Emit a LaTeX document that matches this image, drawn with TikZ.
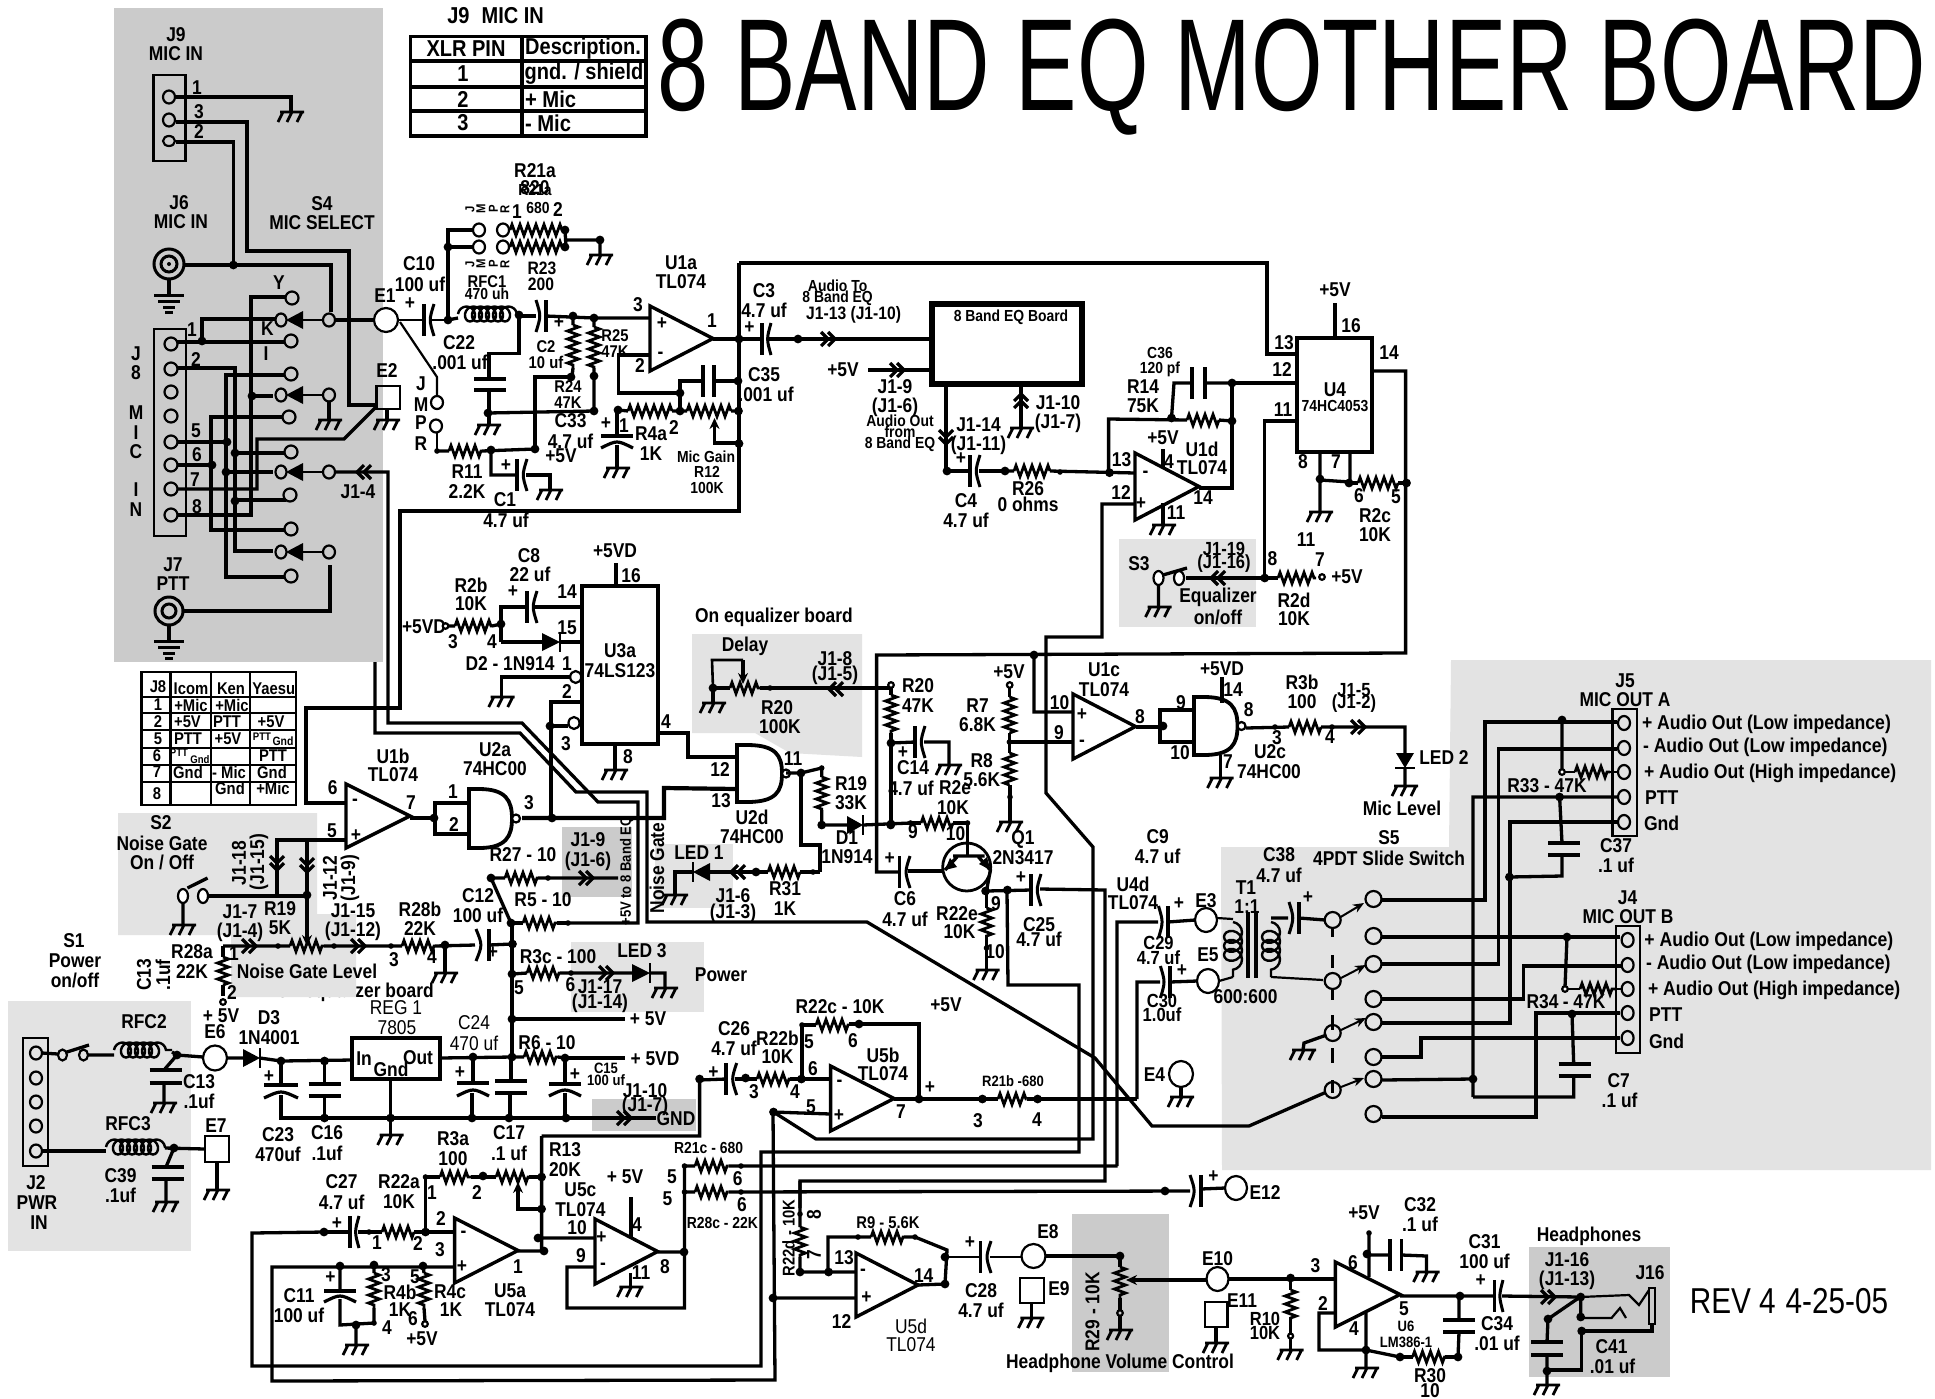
\documentclass[tikz,border=0pt]{standalone}
\usepackage{fontspec}
\usepackage{graphicx}
\setmainfont{Liberation Sans}
\usetikzlibrary{arrows.meta,decorations.pathmorphing}
\definecolor{gA}{HTML}{CBCBCB}
\definecolor{gB}{HTML}{E3E3E3}
\newcounter{lbl}
\tikzset{
 lbl/.style={inner sep=0pt,outer sep=0pt,anchor=center},
 wr/.style={line width=3.3pt,line join=miter},
 hw/.style={line width=4.2pt,line join=miter},
 tw/.style={line width=2.2pt},
 gw/.style={line width=2.8pt},
 chv/.style={line width=3.2pt},
 opa/.style={line width=3.4pt,line join=miter},
 rez/.style={line width=2.8pt,decorate,decoration={zigzag,segment length=8pt,amplitude=5.5pt}},
 coi/.style={line width=2.4pt,decorate,decoration={coil,aspect=.9,segment length=7pt,amplitude=7.5pt}},
 coiv/.style={line width=2.4pt,decorate,decoration={coil,aspect=.9,segment length=9pt,amplitude=9pt}},
 cpl/.style={line width=3.6pt},
 wip/.style={line width=3.2pt,-{Stealth[length=11pt,width=10pt]}},
}
\newcommand\LT[4][20]{\stepcounter{lbl}\node[lbl,font=\fontsize{#1}{#1}\selectfont\bfseries] (t\thelbl) at (#2,#3) {\scalebox{.87}[1]{#4}};}
\newcommand\LN[4][20]{\stepcounter{lbl}\node[lbl,font=\fontsize{#1}{#1}\selectfont] (t\thelbl) at (#2,#3) {\scalebox{.87}[1]{#4}};}
\newcommand\LW[4][20]{\stepcounter{lbl}\node[lbl,anchor=west,font=\fontsize{#1}{#1}\selectfont\bfseries] (t\thelbl) at (#2,#3) {\scalebox{.88}[1]{#4}};}
\newcommand\LV[4][20]{\stepcounter{lbl}\node[lbl,rotate=90,font=\fontsize{#1}{#1}\selectfont\bfseries] (t\thelbl) at (#2,#3) {\scalebox{.87}[1]{#4}};}
\newcommand\xDot[2]{\fill (#1,#2) circle (4.4pt);}
\newcommand\xSd[2]{\fill (#1,#2) circle (2.8pt);}
\newcommand\xRg[5][white]{\draw[line width=2.2pt,fill=#1] (#2,#3) ellipse ({#4pt} and {#5pt});}
\newcommand\xRz[4]{\draw[rez] (#1,#2)--(#3,#4);}
\newcommand\xCoil[4]{\draw[coi] (#1,#2)--(#3,#4);}
\newcommand\xCapH[4]{\pgfmathsetmacro\cmx{#2+(#1-#2)*0.5}\draw[cpl] (#1,#3-#4)--(#1,#3+#4);\draw[line width=3pt] (#2,#3-#4) .. controls (\cmx,#3) .. (#2,#3+#4);}
\newcommand\xCapV[4]{\draw[cpl] (#1-#4,#2)--(#1+#4,#2);\draw[line width=3.2pt] (#1-#4,#3+3) .. controls (#1,#3-5) .. (#1+#4,#3+3);}
\newcommand\xCapN[4]{\draw[cpl] (#1-#4,#2)--(#1+#4,#2) (#1-#4,#3)--(#1+#4,#3);}
\newcommand\xCapNH[4]{\draw[cpl] (#1,#3-#4)--(#1,#3+#4) (#2,#3-#4)--(#2,#3+#4);}
\newcommand\xGnd[2]{\draw[gw] (#1-11,#2)--(#1+13,#2) (#1-8,#2)--(#1-13,#2+10) (#1+1,#2)--(#1-4,#2+10) (#1+11,#2)--(#1+6,#2+10);}
\newcommand\xEarth[2]{\draw[line width=3pt] (#1-15,#2)--(#1+15,#2) (#1-11,#2+6)--(#1+11,#2+6) (#1-6,#2+12)--(#1+6,#2+12) (#1-4,#2+17)--(#1+4,#2+17);}
\newcommand\xChev[3]{\begin{scope}[shift={(#1,#2)},rotate=#3]\draw[chv] (-8,-7)--(-1,0)--(-8,7) (-1,-7)--(6,0)--(-1,7);\end{scope}}
\newcommand\xTri[4]{\pgfmathsetmacro\tmy{(#2+#3)/2}\draw[opa] (#1,#2)--(#4,\tmy)--(#1,#3)--cycle;}
\newcommand\xNand[4]{\pgfmathsetmacro\tmy{(#2+#3)/2}\draw[line width=3.8pt,line join=miter] (#1,#2)--(#1+10,#2) .. controls (#4-6,#2) and (#4,\tmy-18) .. (#4,\tmy) .. controls (#4,\tmy+18) and (#4-6,#3) .. (#1+10,#3)--(#1,#3)--cycle;\xRg{#4+4}{\tmy}{4}{4}}
\newcommand\xDioR[4]{\fill (#1,#3-#4)--(#2,#3)--(#1,#3+#4)--cycle;\draw[line width=2.6pt] (#2,#3-#4-1)--(#2,#3+#4+1);}
\newcommand\xDioD[4]{\fill (#1-#4,#2)--(#1,#3)--(#1+#4,#2)--cycle;\draw[line width=2.6pt] (#1-#4-1,#3)--(#1+#4+1,#3);}
\newcommand\xArmL[2]{\fill (#1,#2)--(#1+17,#2-9)--(#1+17,#2+9)--cycle;}
\begin{document}
\begin{tikzpicture}[x=1pt,y=-1pt]
\useasboundingbox (0,0) rectangle (1935,1398);
\fill[white] (0,0) rectangle (1935,1398);
%%% text that lies partly under a panel
\LT{355}{992}{On equalizer board}
%%% panels
\fill[gA] (114,8) rectangle (383,662);
\fill[gB] (118,813)--(317,813)--(317,914)--(356,914)--(356,997)--(231,997)--(231,935)--(118,935)--cycle;
\fill[gB] (8,1001) rectangle (191,1251);
\fill[gB] (1119,539) rectangle (1256,627);
\fill[gB] (692,634)--(862,634)--(862,757)--(790,753)--(755,733)--(692,733)--cycle;
\fill[gB] (655,844) rectangle (733,908);
\fill[gA] (562,827) rectangle (632,897);
\fill[gB] (571,942) rectangle (704,1012);
\fill[gA] (592,1099) rectangle (696,1131);
\fill[gB] (1221,847)--(1449,847)--(1451,660)--(1931,660)--(1931,1170)--(1222,1170)--cycle;
\fill[gA] (1529,1247) rectangle (1670,1377);
\fill[gA] (1072,1214) rectangle (1169,1372);
%%% title
\LN[131]{1292}{77}{\scalebox{.808}[1]{8 BAND EQ MOTHER BOARD}}
%%% J9 table
\draw[line width=3.2pt] (410.6,36.4) rectangle (646,136) (522,36.4)--(522,136) (410.6,61)--(646,61) (410.6,87)--(646,87) (410.6,111)--(646,111);
\LT[23]{495.6}{16}{J9\hspace{14pt}MIC IN}
\LT[23]{466}{49}{XLR PIN}\LT[23]{583}{49}{Description.}
\LT[23]{463}{74}{1}\LT[23]{584}{74}{gnd. / shield}
\LT[23]{463}{99}{2}\LW[23]{525}{99}{+ Mic}
\LT[23]{463}{123}{3}\LW[23]{525}{123}{- Mic}
%%% J8 table
\draw[line width=2.6pt] (141.5,672) rectangle (296,805) (170.5,672)--(170.5,805) (211,672)--(211,805) (250,672)--(250,805)
 (141.5,697)--(296,697) (141.5,713)--(296,713) (141.5,730)--(296,730) (141.5,748)--(296,748) (141.5,765)--(296,765) (141.5,782)--(296,782);
\LT[17]{158}{687}{J8}\LT[17]{191}{689}{Icom}\LT[17]{231}{689}{Ken}\LT[17]{273.7}{689}{Yaesu}
\LT[17]{158}{705}{1}\LT[17]{191}{705}{+Mic}\LT[17]{232}{705}{+Mic}
\LT[17]{158}{722}{2}\LT[17]{187.5}{722}{+5V}\LT[17]{227}{722}{PTT}\LT[17]{271}{722}{+5V}
\LT[17]{158}{739}{5}\LT[17]{188}{739}{PTT}\LT[17]{228}{739}{+5V}\LT[11]{262}{737}{PTT}\LT[12]{283}{741}{Gnd}
\LT[17]{157}{756}{6}\LT[11]{179}{753}{PTT}\LT[11]{200}{760}{Gnd}\LT[17]{273}{756}{PTT}
\LT[17]{157}{772}{7}\LT[17]{188}{772}{Gnd}\LT[17]{229}{772}{- Mic}\LT[17]{272}{772}{Gnd}
\LT[17]{157}{794}{8}\LT[17]{230}{788}{Gnd}\LT[17]{273}{788}{+Mic}
%%% J9 connector
\draw[line width=2.4pt] (153.5,75) rectangle (185.4,161);
\draw[wr] (176,97)--(291,97)--(291,112);\xGnd{291}{112}
\draw[wr] (176,122)--(247,122)--(247,251)--(349,251)--(349,405)--(377,405);
\draw[wr] (176,142)--(233.4,142)--(233.4,265);
\xRg[gA]{169}{97}{6}{6.5}\xRg[gA]{169}{120}{6}{6.5}\xRg[gA]{169}{141}{6}{5}
\LT{176}{35}{J9}\LT{176}{54}{MIC IN}\LT{197}{88}{1}\LT{199}{112}{3}\LT{199}{132}{2}
%%% J6 / J7
\draw[wr] (184,265)--(331,265)--(331,312);\xDot{233.4}{265}
\draw[wr] (169,280)--(169,294);\xEarth{169}{295}
\draw[line width=3pt] (169,264) circle (15pt) (169,264) circle (8pt);\fill (169,264) circle (2pt);
\LT{179}{203}{J6}\LT{181}{222}{MIC IN}\LT{322}{204}{S4}\LT{322}{223}{MIC SELECT}
\draw[wr] (184,611)--(330,611)--(330,565);
\draw[wr] (169,626)--(169,640);\xEarth{169}{641}
\draw[line width=3pt] (169,611) circle (14pt) (169,611) circle (7pt);
\LT{173}{565}{J7}\LT{173}{584}{PTT}
%%% J8 connector and S4
\draw[line width=2.4pt] (154,329) rectangle (186,536);
\draw[wr] (177,342)--(285,342) (202,341)--(202,319)--(275,319);
\draw[wr] (285,297)--(251,297)--(251,515)--(177,515) (251,396)--(273,396);
\draw[wr] (177,368)--(235,368)--(235,551)--(273,551) (235,453)--(285,453) (235,500)--(286,500);
\draw[wr] (285,375)--(226,375)--(226,577)--(285,577) (177,442)--(227,442) (226,472)--(273,472);
\draw[wr] (283,417)--(211,417)--(211,530)--(285,530) (177,465)--(212,465);
\draw[wr] (177,489)--(257,489)--(257,439)--(344,439)--(377,406);
\foreach \py in {344,369,392,416,442,465,489,515}{\xRg[gA]{171}{\py}{6.5}{6.5}}
\foreach \dx/\dy in {202/341,252/396,235/453,227/442,212/465,226/472,235/501}{\xDot{\dx}{\dy}}
\foreach \tx/\ty in {292/298,291/341,291/374,289/417,291/452,290/495,291/529,291/576}{\xRg[gA]{\tx}{\ty}{6.5}{6.5}}
\foreach \ay in {320,395,472,552}{\xRg[gA]{281}{\ay}{5.5}{6.5}\xArmL{286}{\ay}\draw[tw] (303,\ay)--(323,\ay);\xRg[gA]{329}{\ay}{6}{6.5}}
\draw[wr] (335,320)--(374,320);
\draw[wr] (329,401)--(329,420);\xGnd{329}{420}
\LT{279}{283}{Y}\LT{267.5}{329}{K}\LT{266}{354}{I}
\LT{192}{330}{1}\LT{196}{360}{2}\LT{196}{431}{5}\LT{197}{455}{6}\LT{195}{480}{7}\LT{197}{507}{8}
\LT{136}{354}{J}\LT{136}{373}{8}\LT{136}{413}{M}\LT{136}{433}{I}\LT{136}{452}{C}\LT{136}{490}{I}\LT{136}{510}{N}
\LT{358}{492}{J1-4}
%%% E1 E2 JMPR
\xRg{386}{320}{12}{12}\LT{385}{296}{E1}
\draw[line width=2.2pt] (376.5,386) rectangle (400,409);
\draw[wr] (387,409)--(387,420);\xGnd{387}{420}\LT{387}{371}{E2}
\draw[tw] (398,320)--(424,320);
\draw[tw] (400,322)--(437,377)--(437,396);
\xRg{437}{402.5}{6}{6.5}\xRg{436}{426}{6}{6.5}
\LT{421}{384}{J}\LT{421}{405}{M}\LT{421}{423}{P}\LT{421}{444}{R}
\xCapH{424}{434}{320}{16}
\draw[tw] (432,320)--(448,320);
\LT{419}{264}{C10}\LT{420}{284}{100 uf}\LT{410}{304}{+}
\draw[wr] (479,230)--(448,230)--(448,320) (448,247)--(473,247);
\xDot{448}{320}\xDot{448}{247}
\xRg{479}{230}{6}{6.5}\xRg{479}{247}{6}{6.5}\xRg{503}{230}{6}{6.5}\xRg{503}{247}{6}{6.5}
\xRz{510}{230}{565}{230}\xRz{510}{247}{565}{247}
\draw[wr] (565,230)--(566,247) (566,240)--(600,240)--(600,255);\xDot{565}{230}\xDot{565}{247}\xDot{600}{240}\xGnd{600}{255}
\LT{535}{171}{R21a}\LT{535}{188}{820}\LT[16]{535}{190}{R21a}\LT[16]{538}{208}{680}\LT{517}{212}{1}\LT{558}{210}{2}
\foreach \jx/\jl in {470/J,481/M,493.5/P,505/R}{\LV[13]{\jx}{209}{\jl}\LV[13]{\jx}{264}{\jl}}
\LT[18]{542}{268}{R23}\LT[18]{541}{284}{200}\LT[17]{487}{282}{RFC1}\LT[16]{487}{294}{470 uh}
%%% RFC1, C2 etc
\draw[wr] (448,320)--(458,318);
\xCoil{458}{314}{519}{314}
\draw[wr] (519,316)--(536,316);\xDot{519}{315}
\xCapH{546}{536}{316}{16}
\draw[wr] (546,316)--(594,318)--(649,318);\xDot{573}{316}\xDot{594}{318}\LT{559}{323}{+}
\draw[wr] (519,316)--(519,353.5)--(489,353.5)--(489,379) (489,390)--(489,425);
\xCapN{490}{379}{390}{16}
\draw[wr] (488,413)--(594,411);\xDot{488}{413}\xGnd{488}{425}
\xRz{573}{325}{573}{368}\xRz{594}{327}{594}{368}
\draw[wr] (573,316)--(573,325) (573,368)--(572,377) (594,318)--(594,327) (594,368)--(594,411);
\xDot{571}{377}\xDot{594}{376}\xDot{594}{411}
\draw[wr] (535,449)--(535,377)--(571,377);
\LT{459}{343}{C22}\LT{460}{362}{.001 uf}\LT[17]{546}{347}{C2}\LT[17]{546}{362}{10 uf}\LT[17]{615}{336}{R25}\LT[17]{615}{352}{47K}\LT[17]{568}{387}{R24}\LT[17]{568}{403}{47K}\LT{570.5}{421}{C33}\LT{570.5}{441}{4.7 uf}
%%% R11 C1
\draw[tw] (437,432)--(437,451);\xSd{437}{451}
\xRz{449}{451}{482}{451}
\draw[wr] (437,451)--(449,451) (482,451)--(535,449) (491,450)--(491,475)--(517,475);\xDot{491}{450}\xDot{535}{449}
\xCapH{517}{527}{475}{16}
\draw[wr] (526,475)--(550,475)--(550,490);\xGnd{550}{490}
\LT{506}{466}{+}\LT{467}{472}{R11}\LT{467}{492}{2.2K}\LT{505}{500}{C1}\LT{506}{520}{4.7 uf}\LT{561}{456}{+5V}
%%% U1a
\xTri{650}{306}{371}{713}\LT{662}{324}{+}\LT{660.6}{355}{-}
\LT{638}{305}{3}\LT{640}{366}{2}\LT{712}{321}{1}\LT{681}{263}{U1a}\LT{681}{282}{TL074}
\draw[wr] (650,355)--(618.5,355)--(618.5,393)--(680,393)--(680,381)--(703,381) (680,393)--(680,411);
\xCapNH{703}{714}{381}{16}
\draw[wr] (714,381)--(739,381) (713,339)--(739,339);
\draw[wr] (739,263)--(739,511)--(400,511)--(400,708)--(306,708)--(306,803)--(346,803);
\draw[wr] (739,263)--(1267,263)--(1267,354)--(1297,354);
\xDot{739}{339}\xDot{738}{381}\xDot{680}{393}\xDot{618}{410}\xDot{680}{411}\xDot{738.5}{411}\xDot{739}{443.6}
\xRz{628}{411}{672}{411}\xRz{687}{411}{731}{411}
\draw[wr] (618,410)--(628,411) (672,411)--(687,411) (731,411)--(739,411);
\draw[wip] (739,443)--(714.5,443)--(714.5,418);
\draw[wr] (617,410)--(617,436) (617,445)--(617,468);\xCapV{617}{436}{445}{16}\xGnd{617}{468}
\LT{606}{424}{+}\LT{624}{426}{1}\LT{651}{434}{R4a}\LT{674}{427.5}{2}\LT{651}{453.5}{1K}
\LT[16]{706}{457}{Mic Gain}\LT[16]{707}{472}{R12}\LT[16]{707}{488}{100K}
%%% C3, EQ board
\xCapH{762}{771}{339}{16}
\draw[wr] (739,339)--(762,339) (769,339)--(929,339);\xDot{798}{339}\xChev{829}{339}{0}
\LT{764}{291}{C3}\LT{764}{310}{4.7 uf}\LT{749.5}{328}{+}
\LT{764}{375}{C35}\LT{766}{394}{.001 uf}
\LT[16]{837.6}{286}{Audio To}\LT[16]{837.6}{298}{8 Band EQ}\LT[18]{853.6}{315}{J1-13 (J1-10)}
\draw[line width=6pt] (932,304) rectangle (1082,384);\LT[16]{1011}{317}{8 Band EQ Board}
\draw[wr] (868,370)--(929,370);\xChev{898}{370}{0}\LT{843}{370}{+5V}
\LT{895}{387}{J1-9}\LT{895}{407}{(J1-6)}\LT[16]{900}{421}{Audio Out}\LT[16]{900}{432}{from}\LT[16]{900}{444}{8 Band EQ}
\draw[wr] (946,387)--(946,471) (1021,387)--(1021,428);\xChev{946}{438}{270}\xChev{1021}{400}{90}\xGnd{1021}{428}
\LT{978.5}{425}{J1-14}\LT{978.5}{445}{(J1-11)}\LT{1058}{403}{J1-10}\LT{1058}{423}{(J1-7)}
\xDot{947}{471}\draw[wr] (947,471)--(970,471) (979,471)--(1005,471);\xCapH{970}{980}{471}{16}
\xRz{1014}{471}{1050}{471}
\draw[wr] (1005,471)--(1014,471) (1050,471)--(1135,473);\xDot{1005}{471}\xSd{1060}{472}\xDot{1109.5}{472.7}
\LT{961}{459}{+}\LT{966}{501}{C4}\LT{966}{520}{4.7 uf}\LT{1028}{489}{R26}\LT{1028}{504}{0 ohms}
%%% U1d
\xTri{1135}{453}{520}{1199}\LT{1145.5}{474}{-}\LT{1141}{504}{+}
\LT{1121.6}{460}{13}\LT{1121}{493}{12}\LT{1203}{498}{14}\LT{1176}{513}{11}\LT{1169}{462}{4}\LT{1163}{438}{+5V}\LT{1202}{449}{U1d}\LT{1202}{468}{TL074}
\draw[wr] (1163,449)--(1163,468) (1163,503)--(1163,525);\xGnd{1163}{525}
\draw[wr] (1199,488)--(1232,488)--(1232,383)--(1297,383);\xDot{1232}{421}\xDot{1232}{383}
\draw[wr] (1232,383)--(1205,383) (1192,383)--(1174,383)--(1171.5,418);\xCapNH{1192}{1205}{383}{16}
\xRz{1187}{420}{1219}{420}
\draw[wr] (1219,420)--(1232,421) (1187,420)--(1108.6,419)--(1108.6,473);\xDot{1171.5}{418}
\LT[16]{1160}{353}{C36}\LT[16]{1160}{369}{120 pf}\LT{1143}{387}{R14}\LT{1143}{406}{75K}
\draw[wr] (1135,504)--(1102,504)--(1102,637)--(1046,637)--(1046,793)--(1093,847)--(1093,1139)--(816,1139)--(773.5,1112);
%%% U4
\draw[opa] (1297,338) rectangle (1372,452);\draw[wr] (1335,303)--(1335,338);
\LT{1335}{390}{U4}\LT[16]{1335}{406}{74HC4053}\LT{1284}{343}{13}\LT{1282}{370}{12}\LT{1283}{410}{11}\LT{1389}{353}{14}\LT{1351}{326}{16}\LT{1335}{290}{+5V}
\LT{1303}{462}{8}\LT{1336}{462}{7}\LT{1359}{496}{6}\LT{1396}{497}{5}\LT{1375}{516}{R2c}\LT{1375}{535}{10K}\LT{1306}{540}{11}\LT{1320}{560}{7}\LT{1272.5}{559}{8}\LT{1294}{600}{R2d}\LT{1294}{619}{10K}\LT{1347}{577}{+5V}
\draw[wr] (1372,371)--(1405.6,371)--(1405.6,653)--(876.6,655)--(876.6,872)--(899.5,872) (1034,655)--(1034,712)--(1074,712);\xDot{1034}{655}\xDot{1406.5}{483}
\draw[wr] (1297,421)--(1264.7,421)--(1264.7,578)--(1186,578);\xDot{1264.7}{578}\xChev{1217}{578}{180}
\xRz{1278}{578}{1316}{578}\draw[wr] (1264.7,578)--(1278,578);\xRg{1322}{577}{2.8}{2.8}
\draw[wr] (1320,452)--(1320,512) (1350,452)--(1350,483) (1320,480)--(1350,482);\xDot{1320}{479}\xDot{1349}{483}\xGnd{1320}{512}
\xRz{1358}{483}{1398}{483}\draw[wr] (1349,483)--(1358,483) (1398,483)--(1406,483);
%%% S3
\xRg{1158.5}{578}{5}{7}\xRg{1179}{578}{5}{7}\draw[wr] (1163,575)--(1187,568) (1158.5,585)--(1158.5,607);\xGnd{1158.5}{607}
\LT{1139}{564}{S3}\LT[19]{1224}{549}{J1-19}\LT[19]{1224}{564}{(J1-16)}\LT{1218}{597}{Equalizer}\LT{1218}{617}{on/off}
%%% U3a
\draw[opa] (582,586) rectangle (658,744);\draw[wr] (616,563)--(616,586) (615,744)--(615,770);\xGnd{615}{770}
\LT{615}{551}{+5VD}\LT{631}{576}{16}\LT{620}{651}{U3a}\LT{620}{671}{74LS123}\LT{628}{757}{8}\LT{666}{722}{4}
\LT{424}{627}{+5VD}\xRg{445.5}{626}{2.8}{2.8}\xRz{455}{626}{492}{626}\draw[wr] (448,626)--(455,626) (492,626)--(501,624);\xDot{501}{624}
\LT{453}{642}{3}\LT{492}{642}{4}\LT{471}{585}{R2b}\LT{471}{604}{10K}
\draw[wr] (501,642)--(501,607)--(527,607) (535,607)--(582,607);\xCapH{527}{537}{607}{16}
\LT{513}{592}{+}\LT{529}{556}{C8}\LT{530}{574}{22 uf}\LT{567}{592}{14}
\draw[wr] (501,642)--(542,642) (560,642)--(582,642);\xDioR{542}{560}{642}{9}\LT{567}{628}{15}\LT{510}{664}{D2 - 1N914}\LT{567}{664}{1}
\draw[wr] (570,677)--(501.7,677)--(501.7,697);\xGnd{501.7}{697}\xRg{575.7}{677}{5.5}{6}
\draw[wr] (582,702)--(551,702)--(551,819) (551,726)--(568,726);\xDot{550}{726}\xRg{574}{723}{5.5}{6}\LT{567}{692}{2}\LT{566}{744}{3}
%%% U2d, U2a
\draw[hw] (658,733)--(688,733)--(688,757)--(737,757);
\xNand{737}{745}{802}{782}
\LT{720}{770}{12}\LT{721}{801}{13}\LT{793}{759}{11}\LT{752}{817}{U2d}\LT{752}{837}{74HC00}
\draw[hw] (737,789)--(664,788)--(664,818)--(522,818);\xDot{552}{818}
\xNand{469}{789}{848}{512}
\LT{453}{792}{1}\LT{454}{825}{2}\LT{529}{803}{3}\LT{495}{750}{U2a}\LT{495}{769}{74HC00}
\draw[wr] (469,803)--(435,803)--(435,834)--(469,834) (410,818)--(435,818);\xDot{434}{818}
%%% U1b
\xTri{346}{784}{848}{410}\LT{355}{802}{-}\LT{356}{836}{+}\LT{332.6}{788}{6}\LT{332}{831}{5}\LT{411}{803}{7}\LT{393}{756}{U1b}\LT{393}{775}{TL074}
\draw[wr] (346,840)--(277,840)--(277,895) (307,840)--(307,895);\xChev{277}{864}{270}\xChev{307}{866}{270}
\draw[wr] (208,896)--(307,896);\xDot{307}{895}
\draw[wip] (307,895)--(307,946);
\xRg{183}{896}{5}{7}\xRg{203}{896}{5}{7}\draw[wr] (187.5,888)--(207.6,878) (183,903)--(183,925);\xGnd{183}{925}
\LV{239}{863}{J1-18}\LV{259}{862}{(J1-15)}\LV{330}{878}{J1-12}\LV{350}{878}{(J1-9)}
\LT{161}{823}{S2}\LT{162}{843}{Noise Gate}\LT{162}{862}{On / Off}
%%% Noise gate row
\draw[wr] (223,946)--(290,946) (324,946)--(402,946) (435,946)--(475,945) (489,945)--(512,944);
\xChev{250}{946}{0}\xChev{359}{946}{0}\xSd{278}{946}\xSd{334}{946}\xSd{391}{946}\xDot{445}{945}
\xRz{290}{946}{324}{946}\xRz{402}{946}{435}{946}
\draw[wr] (445,945)--(445,973);\xGnd{445}{973}
\xCapH{489}{476}{945}{16}
\draw[wr] (223,946)--(223,957) (223,985)--(223,996);\xRz{223}{957}{223}{985}\xRg{223}{1002}{2.8}{2.8}
\LT{192}{952}{R28a}\LT{192}{972}{22K}\LT{234}{954}{1}\LT{232}{993}{2}\LT{240}{912}{J1-7}\LT{240}{932}{(J1-4)}\LT{280}{909}{R19}\LT{280}{928}{5K}\LT{353}{911}{J1-15}\LT{353}{931}{(J1-12)}\LT{420}{909}{R28b}\LT{420}{929}{22K}\LT{394}{960}{3}\LT{432}{957}{4}\LT{478}{896}{C12}\LT{478}{915}{100 uf}\LT{493}{953}{+}\LT{307}{971}{Noise Gate Level}
\LT{74}{941}{S1}\LT{75}{961}{Power}\LT{75}{980}{on/off}\LV{144}{975}{C13}\LV{163}{975}{.1uf}
\LN{396}{1008}{REG 1}\LN{397}{1028}{7805}
%%% long buses
\draw[wr] (375,662)--(375,733)--(520,733)--(576,792)--(647,792)--(647,922)--(867,922)--(1095,1058)--(1152,1126)--(1249,1126)--(1331,1090);
\draw[wr] (335,472)--(388,472)--(388,723)--(522,723)--(598,802)--(638,802)--(638,923)--(568,923);
\xChev{363}{472}{180}
%%% R27 R5 etc.
\xRz{505}{878}{538}{878}\draw[wr] (491,878)--(505,878) (538,878)--(618,878) (491,878)--(511,923);\xDot{491}{878}\xSd{548}{878}\xChev{587}{878}{0}
\xRz{523}{923}{557}{923}\draw[wr] (511,923)--(523,923) (557,923)--(568,923) (512,923)--(512,1057);\xDot{511}{923}\xSd{568}{923}\xDot{512.5}{944}\xDot{512}{974}\xDot{512}{1019}\xDot{512}{1057}
\LT{523}{855}{R27 - 10}\LT{588}{840}{J1-9}\LT{588}{861}{(J1-6)}\LT{543}{900}{R5 - 10}
\LV[15]{627}{871}{+5V to 8 Band EQ}
\xRz{527}{973}{560}{973}\draw[wr] (512,974)--(527,973) (560,973)--(632,973) (650,973)--(665,973)--(665,988);\xSd{571}{973}\xChev{607}{973}{0}\xDioR{632}{650}{973}{9}\xGnd{665}{988}
\LT{558}{957}{R3c - 100}\LT{642}{951}{LED 3}\LT{721}{975}{Power}\LT{519}{988}{5}\LT{570.5}{985}{6}\LT{600}{987}{J1-17}\LT{600}{1003}{(J1-14)}
\draw[wr] (512,1019)--(625,1019) (565,1058)--(625,1058);\xDot{565}{1058}
\LT{648}{1019}{+ 5V}\LT{655}{1059}{+ 5VD}
\xRz{524}{1057}{558}{1057}\draw[wr] (512,1057)--(524,1057) (558,1057)--(565,1058);\LT{547}{1043}{R6 - 10}
%%% Regulator
\draw[wr] (352,1038) rectangle (440,1079);\LT{364}{1059}{In}\LT{391}{1069}{Gnd}\LT{418}{1058}{Out}
\LN{474}{1023}{C24}\LN{474}{1043}{470 uf}
\draw[wr] (228,1058)--(243,1058) (260,1058)--(281,1061)--(352,1060) (440,1058)--(512,1057);\xDioR{243}{260}{1058}{9}\xDot{281}{1061}\xDot{324.5}{1061}\xDot{473}{1057}
\xRg{215}{1058}{12}{12.5}\LT{215}{1032}{E6}\LT{269}{1018}{D3}\LT{269}{1038}{1N4001}\LT{221}{1016}{+ 5V}
\draw[wr] (281,1061)--(281,1085) (281,1095)--(281,1118)--(656,1118);\xCapV{281}{1085}{1095}{17}\LT{269}{1077}{+}
\draw[wr] (324.5,1061)--(324.5,1084) (324.5,1096)--(324.5,1118);\xCapN{324.5}{1084}{1096}{16}
\draw[wr] (390.6,1079)--(390.6,1135);\xGnd{390.6}{1135}
\foreach \dx in {324.5,390.6,472,509,566}{\xDot{\dx}{1118}}
\draw[wr] (473,1057)--(473,1083) (472,1093)--(472,1118);\xCapV{473}{1083}{1093}{16}\LT{460}{1073}{+}
\draw[wr] (511,1057)--(511,1081) (510,1093)--(510,1118);\xCapN{511}{1081}{1093}{16}
\draw[wr] (565,1058)--(565,1084) (565,1093)--(565,1118);\xCapV{565}{1084}{1093}{16}\LT{575}{1075}{+}
\xChev{625}{1118}{0}
\LT{676}{1119}{GND}\LT[15]{606}{1068}{C15}\LT[15]{606}{1080}{100 uf}\LT{645}{1091}{J1-10}\LT{645}{1106}{(J1-7)}
\LT{278}{1135}{C23}\LT{278}{1154}{470uf}\LT{327}{1133}{C16}\LT{327}{1153}{.1uf}\LT{509}{1133}{C17}\LT{509}{1153}{.1 uf}
%%% PWR in
\draw[line width=2.4pt] (23,1038) rectangle (48,1166);
\foreach \py in {1053,1078,1102,1126,1151}{\xRg[gB]{36}{\py}{6}{6.5}}
\LT{36}{1183}{J2}\LT{37}{1203}{PWR}\LT{39}{1223}{IN}
\draw[wr] (42,1053)--(58,1054) (88,1055)--(114,1055);\xRg[gB]{62.5}{1055}{4.5}{5.5}\xRg[gB]{83.5}{1055}{4.5}{5.5}\draw[wr] (67,1052)--(89,1045);
\xCoil{114}{1050}{172}{1050}\draw[wr] (172,1052)--(177,1055)--(203,1057) (177,1055)--(164,1070) (164,1083)--(164,1103);\xDot{177}{1055}\xCapN{165.5}{1070}{1083}{16}\xGnd{164}{1103}
\LT{199}{1082}{C13}\LT{199}{1101}{.1uf}\LT{144}{1022}{RFC2}
\draw[wr] (42,1151)--(106,1151);\xCoil{106}{1147}{165}{1147}\draw[wr] (165,1148)--(205,1149) (174,1148)--(166,1167) (166,1179)--(166,1202);\xDot{174}{1148}\xCapN{167.5}{1167}{1179}{16}\xGnd{166}{1202}
\draw[line width=2.2pt] (205,1136) rectangle (229,1162);\draw[wr] (217,1162)--(217,1190);\xGnd{217}{1190}
\LT{216}{1126}{E7}\LT{128}{1124}{RFC3}\LT{120.5}{1176}{C39}\LT{120.5}{1195}{.1uf}
%%% J1-8, delay
\draw[wr] (890,688)--(771,688) (760,688)--(771,688);\xRz{730}{688}{760}{688}\xChev{835}{689}{180}\xSd{770}{688}\xRg{891}{685}{2.8}{2.8}
\draw[wr] (730,688)--(713,688);\xDot{713}{688}\draw[line width=2.6pt] (713,688)--(712,660)--(743,660);\draw[wip] (743,660)--(743,684);\draw[wr] (713,688)--(713,703);\xGnd{713}{703}
\LT{777}{708}{R20}\LT{780}{727}{100K}\LT{745}{646}{Delay}\LT{835}{659}{J1-8}\LT{835}{675}{(J1-5)}\LT{774}{617}{On equalizer board}
%%% R20 47K etc
\xRz{891}{695}{891}{733}\draw[wr] (891,688)--(891,695) (891,733)--(891,824);\xDot{891}{743}\xDot{891}{824}
\LT{918}{686}{R20}\LT{918}{706}{47K}
\draw[wr] (891,743)--(915,742) (924,742)--(949,742)--(949,765);\xCapH{915}{925}{742}{16}\xGnd{949}{765}
\LT{903}{753}{+}\LT{913}{768}{C14}\LT{911}{788}{4.7 uf}\LT{955}{788}{R2e}\LT{953}{808}{10K}
%%% R19 D1 R31
\draw[wr] (786,773)--(801,773)--(821.7,768) (821.7,768)--(821.7,777) (821.7,810)--(821.7,825)--(847,825) (863,825)--(910.5,823);\xRz{821.7}{777}{821.7}{810}
\xDot{801}{773}\xSd{821.7}{768}\xDot{821.7}{825}\xDioR{847}{863}{825}{9}\xDot{890.7}{825}\xSd{910.5}{823}
\draw[hw] (801,773)--(801,845)--(820,845)--(820,872);
\xRz{768}{872}{800}{872}\draw[wr] (820,872)--(800,872) (768,872)--(710,872);\xSd{813}{872}\xDot{756}{872}\xChev{737}{872}{180}\xDioR{710}{693}{872}{9}
\draw[wr] (693,872)--(675,872)--(675,895);\xGnd{675}{895}
\LT{699}{853}{LED 1}\LT{733}{896}{J1-6}\LT{733}{913}{(J1-3)}\LT{785}{889}{R31}\LT{785}{909}{1K}\LT{851}{784}{R19}\LT{851}{803}{33K}\LT{847}{838}{D1}\LT{847}{857}{1N914}\LV{657}{868}{Noise Gate}
%%% Q1
\xRz{921}{823}{953}{823}\draw[wr] (910.5,823)--(921,823) (953,823)--(967.5,823)--(967.5,856);\xSd{967.5}{823}
\LT{913}{832}{9}\LT{955.6}{834}{10}
\draw[line width=2.8pt] (966.7,867) circle (24pt);
\draw[wr] (953,856)--(984.5,856) (957,857)--(945,870) (978.5,857)--(990.4,870)--(986.5,891);
\fill (945,870)--(950,858)--(957,867)--cycle;\fill (990.4,870)--(979,864)--(987,857)--cycle;
\xCapH{899.5}{910}{872}{16}
\draw[wr] (908,871)--(943,871);
\LT{889.6}{859}{+}\LT{905}{899}{C6}\LT{905}{919}{4.7 uf}\LT{1023}{839}{Q1}\LT{1023}{858}{2N3417}
\draw[wr] (986.5,891)--(1031,890) (1040,889)--(1105,890)--(1105,1181)--(800,1181)--(800,1208);\xDot{985.6}{891}\xDot{1007.4}{890}\xCapH{1031}{1041}{890}{16}
\xRz{986.5}{908}{986.5}{937}\draw[wr] (986.5,891)--(986.5,908) (986.5,937)--(986.5,970);\xSd{986.5}{948}\xGnd{986.5}{970}
\LT{996}{904}{9}\LT{957}{914}{R22e}\LT{959.5}{932}{10K}\LT{995}{952}{10}\LT{1039}{925}{C25}\LT{1039}{939}{4.7 uf}\LT{1021}{878}{+}
\draw[wr] (1007,891)--(1008,985)--(1079,985)--(1079,1152)--(761,1152)--(761,1366)--(252,1366)--(252,1233)--(324,1232);
%%% U1c, U2c
\xTri{1073}{694}{759}{1135.5}\LT{1082}{715}{+}\LT{1082}{743}{-}\LT{1059.6}{703}{10}\LT{1059}{733}{9}\LT{1140}{717}{8}\LT{1104}{670}{U1c}\LT{1104}{690}{TL074}\LT{1009}{672}{+5V}
\xRg{1009.7}{685}{2.8}{2.8}\xRz{1009.5}{697}{1009.5}{733}\draw[wr] (1009.5,688)--(1009.5,697) (1009.5,733)--(1009.5,753) (1009.5,742)--(1073,742) (1010,785)--(1010,822);\xRz{1009.5}{753}{1009.5}{785}
\xSd{1009.4}{742}\xSd{1010}{797}\xGnd{1010}{822}
\LT{977.6}{706}{R7}\LT{977.6}{725}{6.8K}\LT{981.7}{761}{R8}\LT{981.7}{780}{5.6K}
\xNand{1194}{697}{755}{1237.5}
\draw[wr] (1135.5,727)--(1163,727) (1194,710)--(1160,710)--(1160,742)--(1194,742);\xDot{1163}{726}
\LT{1181}{703}{9}\LT{1180}{753}{10}\LT{1248.6}{710}{8}\LT{1233}{690}{14}\LT{1222}{669}{+5VD}\LT{1228}{762}{7}\LT{1270}{752}{U2c}\LT{1269}{772}{74HC00}
\draw[wr] (1222,677)--(1222,703) (1220.5,755)--(1220.5,778);\xGnd{1220.5}{778}
\draw[wr] (1246,728)--(1289,727) (1321,727)--(1405,727)--(1405,753) (1405,768)--(1405,786);\xSd{1275}{727}\xRz{1289}{727}{1321}{727}\xSd{1332}{727}\xChev{1359}{727}{0}\xDioD{1405}{753}{768}{9}\xGnd{1405}{786}
\LT{1302}{682}{R3b}\LT{1302}{702}{100}\LT{1277}{738}{3}\LT{1330}{737}{4}\LT[19]{1354}{690}{J1-5}\LT[19]{1354}{704}{(J1-2)}\LT{1444}{758}{LED 2}\LT{1402}{808}{Mic Level}
%%% C9 C30 T1 S5
\LT{1157.7}{837}{C9}\LT{1157.7}{856}{4.7 uf}\LT{1133}{884}{U4d}\LT{1133}{903}{TL074}
\draw[wr] (1117,1166)--(1117,922)--(1158,922) (1168,922)--(1195,920);\xCapH{1168}{1158.5}{922}{16}\xRg{1206}{920}{11}{12}
\LT{1179}{904}{+}\LT{1206}{901}{E3}
\draw[wr] (1137,1099)--(1137,982)--(1160,982) (1170,982)--(1197,981);\xCapH{1170}{1160.4}{982}{16}\xRg{1208}{981}{11}{12}
\LT{1182}{971}{+}\LT[19]{1158.5}{943}{C29}\LT[19]{1158.5}{958}{4.7 uf}\LT{1208}{955}{E5}\LT[19]{1162}{1001}{C30}\LT[19]{1162}{1015}{1.0uf}
\xRg{1181}{1074}{12}{13}\draw[wr] (1181,1087)--(1181,1097);\xGnd{1181}{1097}\LT{1154.5}{1075}{E4}
\draw[tw] (1217,918)--(1233,919) (1219,981)--(1233,977);
\draw[coiv] (1233,922)--(1233,977);\draw[coiv] (1271,922)--(1271,977);
\draw[wr] (1248,912)--(1248,978) (1256,912)--(1256,978);
\draw[wr] (1271,918)--(1288,918) (1299,918)--(1325,920);\xCapH{1299}{1289}{918}{16}
\draw[tw] (1271,977)--(1323,980);
\LT{1308}{898}{+}\LT{1246}{888}{T1}\LT{1247}{907}{1:1}\LT{1279}{855}{C38}\LT{1279}{875}{4.7 uf}\LT{1245.5}{997}{600:600}\LT{1389}{838}{S5}\LT{1389}{858}{4PDT Slide Switch}
\foreach \ay in {920,981,1033,1090}{\xRg[gB]{1332.7}{\ay}{8}{8}}
\foreach \ty in {899,936,964,999,1022,1057,1079,1114}{\xRg[gB]{1373.5}{\ty}{8}{8}}
\draw[line width=2pt,-{Stealth[length=11pt,width=9pt]}] (1340.6,917)--(1364,903);
\draw[line width=2pt,-{Stealth[length=11pt,width=9pt]}] (1341,978)--(1366,965);
\draw[line width=2pt,-{Stealth[length=11pt,width=9pt]}] (1341,1030)--(1366,1018);
\draw[line width=2pt,-{Stealth[length=11pt,width=9pt]}] (1341,1087)--(1364,1078);
\draw[wr] (1332.7,927)--(1332.7,937) (1332.7,955)--(1332.7,968) (1332.7,988)--(1332.7,1000) (1332.7,1015)--(1332.7,1030) (1332.7,1048)--(1332.7,1063) (1332.7,1080)--(1332.7,1093);
\draw[wr] (1326.6,1035)--(1304,1043)--(1303,1050);\xGnd{1303}{1050}
%%% J5 J4 wires
\draw[wr] (1381.5,900)--(1485,900)--(1485,722)--(1617,722);
\draw[wr] (1381.5,937)--(1620,937);
\draw[wr] (1381.5,964)--(1498.6,964)--(1498.6,749)--(1617,749);
\draw[wr] (1381.5,999)--(1523.5,999)--(1523.5,966)--(1621,966);
\draw[wr] (1381.5,1023)--(1510,1023)--(1510,822)--(1617,822);
\draw[wr] (1381.5,1057)--(1421,1057)--(1421,1038)--(1620,1038);
\draw[wr] (1381.5,1080)--(1473,1079) (1473,1097)--(1473,797)--(1617,797);
\draw[wr] (1381.5,1117)--(1536,1117)--(1536,1013)--(1620,1013);
\draw[wr] (1473,1097)--(1573.7,1097)--(1573.7,1076) (1573.7,1064)--(1572,1014);\xCapN{1574.5}{1064}{1076}{16}
\draw[wr] (1562,720)--(1562,769) (1559.6,797)--(1562,843) (1562,855)--(1562,876)--(1509.4,877);\xCapN{1564}{843}{855}{16}
\draw[wr] (1567,937)--(1565,987);
\xRz{1575}{772}{1610}{772}\draw[tw] (1564,772)--(1575,772) (1610,772)--(1618,772);\xRg{1562}{772}{2.8}{2.8}
\xRz{1580}{989}{1615}{989}\draw[tw] (1567,989)--(1580,989) (1615,989)--(1621,989);\xRg{1565}{989}{2.8}{2.8}
\xDot{1562}{720}\xDot{1559.6}{797}\xDot{1509.4}{877}\xDot{1567}{937}\xDot{1572}{1014}\xDot{1473}{1079}
\draw[line width=2.4pt] (1612.5,709) rectangle (1637,836);\foreach \py in {723,748,772,797,822}{\xRg[gB]{1624}{\py}{6}{7}}
\draw[line width=2.4pt] (1616,926) rectangle (1640,1053);\foreach \py in {940,965,989,1013,1038}{\xRg[gB]{1627.6}{\py}{6}{7}}
\LT{1625}{681}{J5}\LT{1625}{700}{MIC OUT A}\LT{1627.6}{898}{J4}\LT{1628}{917}{MIC OUT B}
\LT{1547}{786}{R33 - 47K}\LT{1566}{1002}{R34\hspace{5pt}- 47K}\LT{1616}{846}{C37}\LT{1616}{865}{.1 uf}\LT{1618.7}{1081}{C7}\LT{1619.6}{1100}{.1 uf}
\LW{1642}{724}{+ Audio Out (Low impedance)}\LW{1643}{747}{- Audio Out (Low impedance)}\LW{1644}{773}{+ Audio Out (High\hspace{5pt}impedance)}\LW{1645}{798}{PTT}\LW{1644}{823}{Gnd}
\LW{1644.4}{941}{+ Audio Out (Low impedance)}\LW{1646}{964}{- Audio Out (Low impedance)}\LW{1648}{990}{+ Audio Out (High\hspace{5pt}impedance)}\LW{1649}{1015}{PTT}\LW{1649}{1041}{Gnd}
%%% U5a
\xTri{454.6}{1218}{1283}{518}\LT{463.5}{1234}{-}\LT{462}{1267}{+}
\draw[wr] (454.6,1232)--(414,1232) (382,1232)--(369,1232) (358,1232)--(369,1232) (324,1232)--(350,1232) (425.5,1232)--(425.5,1177);
\xRz{382}{1232}{414}{1232}\xCapH{350}{359}{1232}{16}\xDot{324}{1232}\xDot{425.5}{1232}\xSd{369}{1232}\xSd{425.5}{1177}
\draw[wr] (454.6,1267)--(272,1267)--(272,1381)--(775,1380)--(773,1112)--(830.6,1114) (773,1298)--(856,1298);\xDot{773.5}{1112}\xDot{773}{1298}
\draw[wr] (425.5,1177)--(440,1177) (471,1177)--(496,1177) (529,1177)--(541.6,1177);\xRz{440}{1177}{471}{1177}\xDot{483}{1176}\xRz{496}{1177}{529}{1177}
\draw[wip] (541.6,1209)--(518,1209)--(518,1182);
\draw[wr] (541.6,1136)--(541.6,1251)--(518,1251) (538,1238)--(595,1238) (541.6,1136)--(699.6,1136)--(699.6,1080)--(726,1079);
\xDot{541.6}{1177}\xDot{541.6}{1209}\xDot{538}{1238}\xDot{544}{1251}
\xDot{699.6}{1079}\xCapH{726}{736.7}{1079}{16}
\draw[wr] (735,1079)--(757,1079) (790,1079)--(830,1079) (802,1079)--(802,1025)--(816,1025) (849,1024)--(919,1024)--(919,1099);\xRz{757}{1079}{790}{1079}\xDot{745.6}{1078}\xDot{801.4}{1079}\xSd{802}{1025}\xRz{816}{1025}{849}{1025}\xDot{859}{1024}
\xTri{830.6}{1066}{1131}{894}\LT{839.6}{1083}{-}\LT{839}{1116}{+}
\LT{813}{1069}{6}\LT{811}{1107}{5}\LT{901}{1112}{7}\LT{754}{1092}{3}\LT{795}{1092}{4}\LT{734}{1029}{C26}\LT{734}{1048}{4.7 uf}\LT{777.5}{1038}{R22b}\LT{777.5}{1057}{10K}\LT{713.5}{1073}{+}\LT{809}{1042}{5}\LT{853}{1041}{6}\LT{840}{1007}{R22c - 10K}\LT{883}{1055}{U5b}\LT{883}{1074}{TL074}\LT{930}{1088}{+}\LT{946}{1005}{+5V}\LT[15]{1013}{1081}{R21b -680}\LT{978}{1121}{3}\LT{1037}{1120}{4}
\draw[wr] (894,1099)--(998,1099) (1026.5,1099)--(1137,1099);\xDot{919}{1099}\xDot{982.4}{1099}\xRz{998}{1099}{1026.5}{1099}\xDot{1037.6}{1099}
%%% R21c, R28c
\xRz{695}{1166}{728.6}{1166}\xRz{695}{1192}{728.6}{1192}
\draw[wr] (684.5,1166)--(695,1166) (728.6,1166)--(1117.6,1166) (684.5,1192)--(695,1192) (728.6,1192)--(1190,1191) (684.5,1166)--(684.5,1308)--(567,1308)--(567,1267)--(595,1267) (657.7,1252)--(684,1252);
\xSd{684.5}{1166}\xSd{684.5}{1192}\xSd{741}{1166}\xSd{741}{1192}\xDot{684}{1252}\xDot{1165}{1191}
\xCapH{1201}{1190}{1191}{16}\draw[wr] (1201,1189)--(1225,1188);\xRg{1236}{1188}{11}{12}\LT{1265}{1192}{E12}\LT{1213.5}{1177}{+}
%%% U5c
\xTri{595}{1219}{1284}{657.7}\LT{601.4}{1238}{+}\LT{603}{1266}{-}\LT{577}{1228}{10}\LT{581}{1256}{9}\LT{665}{1267}{8}\LT{641}{1273}{11}\LT{637}{1225}{4}\LT{580.4}{1190}{U5c}\LT{580.4}{1210}{TL074}\LT{625}{1177}{+ 5V}\LT{565}{1150}{R13}\LT{565}{1170}{20K}
\draw[wr] (631,1197)--(631,1237) (630.4,1273)--(630.4,1287);\xGnd{630.4}{1287}
\LT{672}{1177}{5}\LT{737.6}{1179}{6}\LT{667.5}{1199}{5}\LT{742}{1205}{6}\LT[16]{708.6}{1148}{R21c - 680}\LT[16]{722.4}{1223}{R28c - 22K}
\LT{341.6}{1182}{C27}\LT{341.6}{1202}{4.7 uf}\LT{337}{1224}{+}\LT{399}{1182}{R22a}\LT{399}{1202}{10K}\LT{377}{1243}{1}\LT{418}{1243}{2}\LT{441}{1218}{2}\LT{440}{1250}{3}\LT{518}{1267}{1}\LT{510}{1291}{U5a}\LT{510}{1310}{TL074}\LT{453}{1139}{R3a}\LT{453}{1159}{100}\LT{432}{1193}{1}\LT{477}{1192}{2}
%%% C11 R4b R4c
\draw[wr] (340,1266)--(340,1291) (340,1299)--(340,1325)--(374,1323) (356,1325)--(356,1345) (374,1265)--(374,1273) (374,1308)--(374,1323) (423,1266)--(424,1273) (424,1308)--(425,1321);
\xCapV{340}{1291}{1299}{16}\xRz{374}{1273}{374}{1308}\xRz{424}{1273}{424}{1308}
\xDot{340}{1266}\xDot{374}{1265}\xDot{423}{1266}\xDot{356}{1325}\xGnd{356}{1345}\xRg{425}{1324}{2.8}{2.8}\xSd{374}{1323}
\LT{299}{1296}{C11}\LT{299}{1315}{100 uf}\LT{330.4}{1278}{+}\LT{386}{1275}{3}\LT{400}{1292}{R4b}\LT{400}{1310}{1K}\LT{387}{1328}{4}\LT{415}{1277}{5}\LT{450}{1292}{R4c}\LT{451}{1310}{1K}\LT{413}{1319}{6}\LT{422}{1339}{+5V}
%%% U5d
\xTri{856}{1253}{1317}{918}\LT{863}{1272}{-}\LT{866.5}{1298}{+}\LT{844}{1258}{13}\LT{841.6}{1321}{12}\LT{923.7}{1276}{14}\LN{911}{1326}{U5d}\LN{911}{1345}{TL074}
\draw[wr] (800,1181)--(800,1227) (800,1257)--(800,1272)--(856,1272) (828,1272)--(828,1237)--(871,1237) (904,1237)--(915,1237)--(947,1250)--(945,1284)--(918,1285);\xRz{800}{1227}{800}{1257}
\xSd{800}{1214}\xDot{800}{1272}\xDot{828.6}{1272}\xSd{858}{1237}\xRz{871}{1237}{904}{1237}\xSd{915}{1237}\xDot{945}{1257}\xDot{945}{1284}
\LT[17]{888}{1223}{R9 - 5.6K}\LV[17]{788.5}{1238}{R22d - 10K}\LV{814}{1215}{8}\LV{814}{1255}{7}
\draw[tw] (945,1257)--(980,1257) (990,1257)--(1022,1257);\xCapH{980.4}{991}{1257}{16}\xRg{1033.5}{1256}{12}{12}
\LT{970}{1243}{+}\LT{981}{1291}{C28}\LT{981}{1310}{4.7 uf}\LT{1048}{1232}{E8}
\draw[line width=2.2pt] (1020,1278) rectangle (1044,1303);\draw[wr] (1031.4,1303)--(1031.4,1318);\xGnd{1031.4}{1318}\LT{1059}{1289}{E9}
\draw[wr] (1046,1256)--(1120,1256)--(1120,1267) (1120,1298)--(1120,1330);\xDot{1120}{1256}\xRz{1120}{1267}{1120}{1298}\xRg[gA]{1120}{1313}{2.8}{2.8}\xGnd{1120}{1330}
\draw[wip] (1206,1280)--(1126,1280);
\LV{1092.6}{1312}{R29 - 10K}\LT{1120}{1363}{Headphone Volume Control}
%%% U6
\xRg{1217.5}{1279}{11}{12}\LT{1217.5}{1259}{E10}
\draw[line width=2.2pt] (1204.6,1302) rectangle (1227.5,1327);\draw[wr] (1216,1327)--(1216,1343);\xGnd{1216}{1343}\LT{1242}{1301}{E11}
\draw[wr] (1228.5,1279)--(1335.4,1279) (1290.6,1279)--(1290.6,1290) (1290.6,1320)--(1290.6,1350);\xDot{1290.6}{1278}\xRz{1290.6}{1290}{1290.6}{1320}\xRg{1290.6}{1336}{2.5}{2.5}\xGnd{1290.6}{1350}
\LT[19]{1265}{1319}{R10}\LT[19]{1265}{1333}{10K}
\xTri{1335.4}{1262}{1327}{1400}
\LT{1315.5}{1266}{3}\LT{1353}{1263}{6}\LT{1323}{1303}{2}\LT{1354}{1329}{4}\LT{1404}{1309}{5}\LT[15]{1406}{1326}{U6}\LT[15]{1406}{1342}{LM386-1}
\draw[wr] (1335,1313)--(1319,1313)--(1319,1350)--(1366,1350) (1366,1313)--(1366,1368) (1366,1350)--(1400,1357);\xDot{1366}{1350}\xGnd{1366}{1368}
\draw[wr] (1369,1233)--(1369,1277) (1367,1255)--(1390,1255) (1402,1255)--(1426.5,1256)--(1426.5,1272);\xSd{1369}{1233}\xDot{1367}{1254}\xCapNH{1390}{1401.6}{1255}{16}\xGnd{1426.5}{1272}
\LT{1364}{1213}{+5V}\LT{1420}{1205}{C32}\LT{1420}{1224}{.1 uf}
\draw[wr] (1400,1296)--(1494,1296) (1502,1296)--(1580.7,1297);\xDot{1460}{1296}\xCapH{1494.6}{1503}{1296}{16}\xChev{1549}{1297}{0}\xDot{1580.7}{1297}
\draw[tw] (1580,1297)--(1629,1295)--(1639,1305)--(1649,1290);
\draw[line width=2.2pt] (1649,1288) rectangle (1655,1324);
\draw[wr] (1580,1297)--(1548,1319) (1548,1319)--(1547,1342) (1547,1355)--(1547,1385) (1580.7,1297)--(1580.7,1317);\xDot{1548}{1319}\xCapN{1547}{1342}{1355}{16}\xDot{1547}{1371}\xGnd{1547}{1385}\xDot{1580.7}{1317}
\draw[tw] (1580.7,1318)--(1611.5,1318)--(1620,1308)--(1626,1318);
\draw[wr] (1652,1324)--(1652,1331)--(1581.7,1331)--(1581.7,1370)--(1547,1370);\xDot{1581.7}{1331}
\draw[wr] (1459,1296)--(1459,1320) (1459,1332)--(1458,1357);\xCapN{1459}{1320}{1332}{16}\xDot{1458}{1357}\xDot{1400}{1357}\xRz{1412.5}{1357}{1445}{1357}\draw[wr] (1400,1357)--(1412.5,1357) (1445,1357)--(1458,1357);
\LT{1430}{1376}{R30}\LT{1430}{1391}{10}\LT{1497}{1324}{C34}\LT{1497}{1343}{.01 uf}\LT{1611.5}{1347}{C41}\LT{1612.5}{1366}{.01 uf}\LT{1484.6}{1242}{C31}\LT{1484.6}{1261}{100 uf}\LT{1480.7}{1281}{+}\LT{1589}{1236}{Headphones}\LT{1567}{1260}{J1-16}\LT{1567}{1280}{(J1-13)}\LT{1650}{1273}{J16}
\LN[36]{1789}{1301}{\scalebox{.95}[1]{REV 4\hspace{12pt}4-25-05}}
\end{tikzpicture}
\end{document}
